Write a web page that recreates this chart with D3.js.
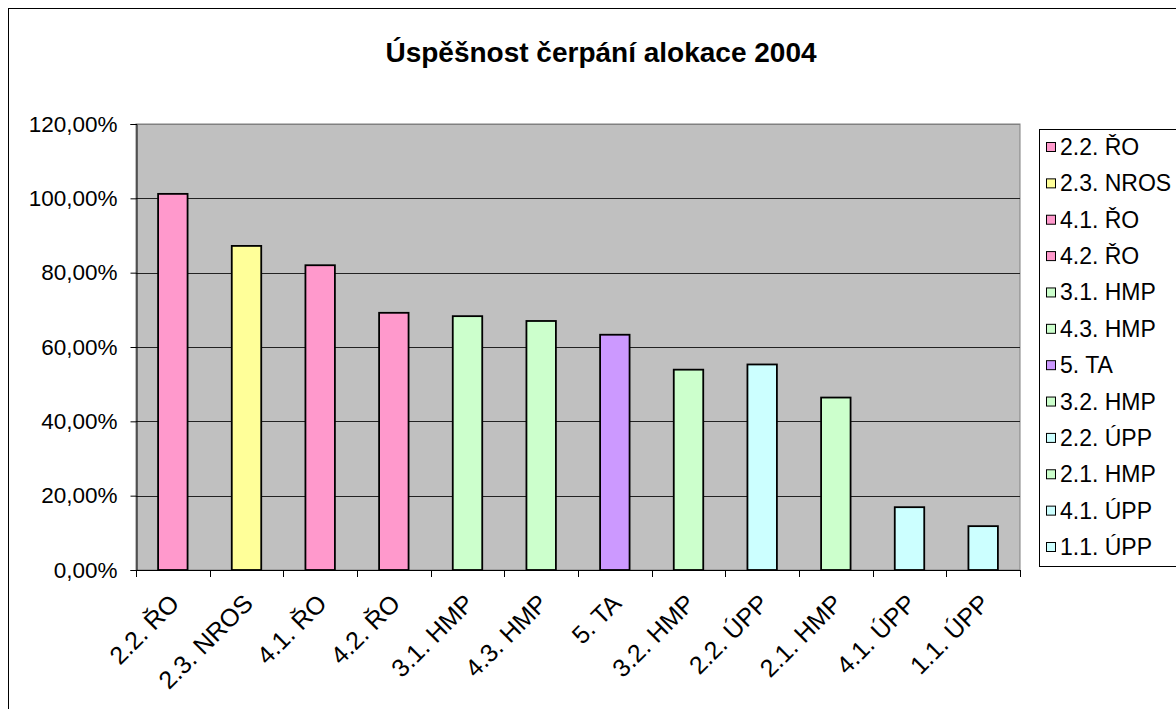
<!DOCTYPE html>
<html>
<head>
<meta charset="utf-8">
<script src="https://cdn.jsdelivr.net/npm/d3@7/dist/d3.min.js"></script>
<style>
  html, body { margin: 0; padding: 0; background: #fff; }
  svg { display: block; font-family: "Liberation Sans", Arial, sans-serif; }
</style>
</head>
<body>
<svg id="chart" width="1176" height="709"></svg>
<script>
const categories = ["2.2. ŘO","2.3. NROS","4.1. ŘO","4.2. ŘO","3.1. HMP","4.3. HMP","5. TA","3.2. HMP","2.2. ÚPP","2.1. HMP","4.1. ÚPP","1.1. ÚPP"];
const values = [101.2, 87.2, 82.0, 69.2, 68.3, 67.0, 63.3, 53.9, 55.3, 46.4, 16.9, 11.8];
const groupColors = { "ŘO": "#FF99CC", "NROS": "#FFFF99", "HMP": "#CCFFCC", "TA": "#CC99FF", "ÚPP": "#CCFFFF" };
const yTicks = [0, 20, 40, 60, 80, 100, 120];
const title = "Úspěšnost čerpání alokace 2004";

const colorOf = c => groupColors[c.split(" ").pop()];

const svg = d3.select("#chart");
const plot = { left: 136, right: 1020, top: 124, bottom: 570 };

// outer border
svg.append("rect").attr("x", 8.5).attr("y", 8.5).attr("width", 1200).attr("height", 800)
  .attr("fill", "#fff").attr("stroke", "#000").attr("stroke-width", 1);

// title
svg.append("text").attr("x", 601).attr("y", 62).attr("text-anchor", "middle")
  .attr("font-size", 28).attr("font-weight", "bold").attr("fill", "#000").text(title);

const x = d3.scaleBand().domain(categories).range([plot.left, plot.right]).paddingInner(0.6).paddingOuter(0.3);
const y = d3.scaleLinear().domain([0, 120]).range([plot.bottom, plot.top]);

// plot area
svg.append("rect").attr("x", plot.left).attr("y", plot.top)
  .attr("width", plot.right - plot.left).attr("height", plot.bottom - plot.top)
  .attr("fill", "#C0C0C0").attr("stroke", "#808080").attr("stroke-width", 1);

// gridlines
svg.append("g").selectAll("line").data(yTicks.filter(t => t > 0)).join("line")
  .attr("x1", plot.left).attr("x2", plot.right)
  .attr("y1", d => Math.round(y(d)) + 0.5).attr("y2", d => Math.round(y(d)) + 0.5)
  .attr("stroke", d => d === 120 ? "#808080" : "#222").attr("stroke-width", 1);

// bars
svg.append("g").selectAll("rect").data(categories).join("rect")
  .attr("x", d => x(d)).attr("width", x.bandwidth())
  .attr("y", (d, i) => y(values[i])).attr("height", (d, i) => y(0) - y(values[i]))
  .attr("fill", d => colorOf(d)).attr("stroke", "#000").attr("stroke-width", 1.8);

// y axis
const yAxis = d3.axisLeft(y).tickValues(yTicks).tickSize(6).tickPadding(13)
  .tickFormat(d => d3.format(".2f")(d).replace(".", ",") + "%");
const gy = svg.append("g").attr("transform", `translate(${plot.left + 0.5},0)`).call(yAxis);
gy.select(".domain").attr("stroke", "#000");
gy.selectAll(".tick line").attr("stroke", "#000");
gy.selectAll(".tick text").attr("font-size", 22.5).attr("fill", "#000")
  .attr("font-family", "Liberation Sans, Arial, sans-serif");

// x axis ticks at category boundaries
const step = (plot.right - plot.left) / categories.length;
const bounds = d3.range(categories.length + 1).map(i => plot.left + i * step);
svg.append("line").attr("x1", plot.left).attr("x2", plot.right)
  .attr("y1", plot.bottom + 0.5).attr("y2", plot.bottom + 0.5).attr("stroke", "#000");
svg.append("g").selectAll("line").data(bounds).join("line")
  .attr("x1", d => Math.round(d) + 0.5).attr("x2", d => Math.round(d) + 0.5)
  .attr("y1", plot.bottom).attr("y2", plot.bottom + 7).attr("stroke", "#000");

// x labels
svg.append("g").selectAll("text").data(categories).join("text")
  .attr("transform", d => `translate(${x(d) + x.bandwidth() / 2 + 8},605) rotate(-45)`)
  .attr("text-anchor", "end").attr("font-size", 25).attr("fill", "#000").text(d => d);

// legend
const lg = svg.append("g");
lg.append("rect").attr("x", 1039.5).attr("y", 129.5).attr("width", 200).attr("height", 437)
  .attr("fill", "#fff").attr("stroke", "#000").attr("stroke-width", 1);
const ly = d3.scalePoint().domain(categories).range([147, 547]);
const items = lg.selectAll("g.item").data(categories).join("g").attr("class", "item")
  .attr("transform", d => `translate(0,${ly(d)})`);
items.append("rect").attr("x", 1046.5).attr("y", -4.5).attr("width", 9).attr("height", 9)
  .attr("fill", d => colorOf(d)).attr("stroke", "#000").attr("stroke-width", 1);
items.append("text").attr("x", 1060).attr("y", 8).attr("font-size", 23).attr("fill", "#000").text(d => d);
</script>
</body>
</html>
